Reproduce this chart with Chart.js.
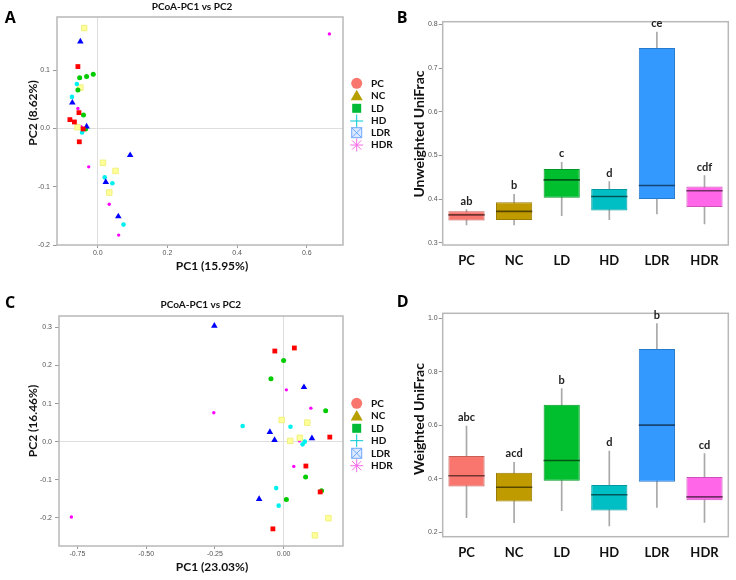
<!DOCTYPE html>
<html>
<head>
<meta charset="utf-8">
<script src="https://cdn.jsdelivr.net/npm/chart.js@4.4.1/dist/chart.umd.min.js"></script>
<style>
html,body{margin:0;padding:0;background:#fff;}
#wrap{position:relative;width:736px;height:580px;overflow:hidden;}
#wrap canvas{position:absolute;}
</style>
</head>
<body>
<div id="wrap">
	<canvas id="cA" width="400" height="290" style="left:0;top:0"></canvas>
	<canvas id="cC" width="400" height="290" style="left:0;top:290px"></canvas>
	<canvas id="cB" width="366" height="290" style="left:370px;top:0"></canvas>
	<canvas id="cD" width="366" height="290" style="left:370px;top:290px"></canvas>
</div>
<script>
// ---- dados ----
const groups = ['PC','NC','LD','HD','LDR','HDR'];

// PCoA unweighted (A) - um array por cor de ponto, pares [PC1, PC2]
const aRed     = [[-0.057,0.106],[-0.054,0.027],[-0.080,0.015],[-0.067,0.011],[-0.042,-0.001],[-0.053,-0.023]];
const aBlue    = [[-0.050,0.149],[-0.073,0.044],[-0.032,0.003],[0.093,-0.046],[0.023,-0.092],[0.059,-0.151]];
const aGreen   = [[-0.052,0.087],[-0.032,0.089],[-0.013,0.093],[-0.057,0.066],[-0.041,0.023],[-0.035,-0.001]];
const aCyan    = [[-0.060,0.076],[-0.074,0.054],[-0.045,-0.007],[0.020,-0.084],[0.042,-0.094],[0.074,-0.165]];
const aYellow  = [[-0.039,0.172],[-0.050,0.070],[-0.058,0.002],[0.015,-0.059],[0.051,-0.073],[0.033,-0.110]];
const aMagenta = [[-0.057,0.034],[-0.048,0.003],[0.665,0.162],[-0.026,-0.066],[0.033,-0.130],[0.060,-0.183]];

// PCoA weighted (C)
const cRed     = [[-0.032,0.238],[0.039,0.246],[0.168,0.012],[0.081,-0.064],[0.133,-0.132],[-0.039,-0.229]];
const cBlue    = [[-0.252,0.304],[0.074,0.143],[-0.050,0.025],[-0.033,0.004],[0.103,0.009],[-0.089,-0.151]];
const cGreen   = [[0.000,0.213],[-0.046,0.165],[0.153,0.081],[0.080,-0.093],[0.138,-0.129],[0.010,-0.152]];
const cCyan    = [[-0.149,0.041],[0.025,0.039],[0.077,0.000],[0.069,-0.007],[-0.027,-0.122],[-0.018,-0.168]];
const cYellow  = [[-0.007,0.057],[0.086,0.050],[0.024,0.002],[0.059,0.010],[0.163,-0.201],[0.114,-0.246]];
const cMagenta = [[0.010,0.136],[0.099,0.088],[-0.254,0.076],[0.058,0.002],[0.037,-0.065],[-0.772,-0.198]];

// boxplots Unweighted UniFrac (B)
const unwMin = [0.341,0.341,0.362,0.353,0.366,0.343];
const unwQ1  = [0.351,0.352,0.403,0.374,0.400,0.382];
const unwMed = [0.364,0.372,0.444,0.406,0.431,0.419];
const unwQ3  = [0.372,0.393,0.469,0.423,0.746,0.429];
const unwMax = [0.376,0.411,0.484,0.440,0.782,0.454];
const unwLetters = ['ab','b','c','d','ce','cdf'];

// boxplots Weighted UniFrac (D)
const wMin = [0.255,0.236,0.281,0.224,0.293,0.237];
const wQ1  = [0.372,0.316,0.393,0.282,0.389,0.320];
const wMed = [0.412,0.369,0.469,0.341,0.601,0.333];
const wQ3  = [0.486,0.423,0.677,0.377,0.886,0.407];
const wMax = [0.597,0.462,0.738,0.504,0.981,0.495];
const wLetters = ['abc','acd','b','d','b','cd'];

// ---- estilos ----
const LATO = "Lato, 'Open Sans', sans-serif";
const TICK_FONT = {family:"'Liberation Sans', Arial, sans-serif", size:7};
const boxFill = ['#F8766D','#C09B00','#00BF2E','#00BFC4','#3399FF','#FF66E8'];
const pointLooks = [
	{c:'#FF0000', s:'rect', r:3.4},
	{c:'#0000FF', s:'triangle', r:3.8},
	{c:'#00CC00', s:'circle', r:2.5},
	{c:'#00F0F0', s:'circle', r:2.3},
	{c:'#FFFF99', s:'rect', r:3.9, b:'#F0F080'},
	{c:'#FF00FF', s:'circle', r:1.7}
];
Chart.defaults.font.family = LATO;

function shade(hex, f){
	const n = parseInt(hex.slice(1),16);
	const r = Math.round(((n>>16)&255)*f), g = Math.round(((n>>8)&255)*f), b = Math.round((n&255)*f);
	return `rgb(${r},${g},${b})`;
}

// textos soltos (títulos, letras dos painéis)
function textPlugin(items){
	return { id:'texts', afterDraw(chart){
		const ctx = chart.ctx;
		for (const t of items){
			ctx.save();
			ctx.font = t.font; ctx.fillStyle = t.color || '#111';
			ctx.textAlign = t.align || 'center'; ctx.textBaseline = t.base || 'middle';
			ctx.translate(t.x, t.y); if (t.rot) ctx.rotate(t.rot);
			ctx.fillText(t.text, 0, 0);
			ctx.restore();
		}
	}};
}

const framePlugin = { id:'frame', beforeDatasetsDraw(chart){
	const {ctx, chartArea:a} = chart;
	ctx.save(); ctx.strokeStyle = '#b8b8b8'; ctx.lineWidth = 1.5;
	ctx.strokeRect(a.left, a.top, a.right-a.left, a.bottom-a.top);
	ctx.restore();
}};

function drawMarker(ctx, i, x, y){
	ctx.save();
	ctx.lineWidth = 1;
	if (i===0){ ctx.fillStyle='#F8766D'; ctx.beginPath(); ctx.arc(x,y,5.5,0,Math.PI*2); ctx.fill(); }
	else if (i===1){ ctx.fillStyle='#B79F00'; ctx.beginPath(); ctx.moveTo(x,y-6); ctx.lineTo(x-6,y+4.5); ctx.lineTo(x+6,y+4.5); ctx.closePath(); ctx.fill(); }
	else if (i===2){ ctx.fillStyle='#00BA38'; ctx.fillRect(x-4.5,y-4.5,9,9); }
	else if (i===3){ ctx.strokeStyle='#00C8D0'; ctx.beginPath(); ctx.moveTo(x-6.5,y); ctx.lineTo(x+6.5,y); ctx.moveTo(x,y-6.5); ctx.lineTo(x,y+6.5); ctx.stroke(); }
	else if (i===4){
		ctx.fillStyle='rgba(97,156,255,0.22)'; ctx.strokeStyle='#6FA8FF';
		ctx.fillRect(x-5,y-5,10,10); ctx.strokeRect(x-5,y-5,10,10);
		ctx.beginPath(); ctx.moveTo(x-5,y-5); ctx.lineTo(x+5,y+5); ctx.moveTo(x+5,y-5); ctx.lineTo(x-5,y+5); ctx.stroke();
	}
	else { ctx.strokeStyle='#F56AE6'; ctx.beginPath();
		for (let k=0;k<4;k++){ const a=k*Math.PI/4; ctx.moveTo(x-6.5*Math.cos(a),y-6.5*Math.sin(a)); ctx.lineTo(x+6.5*Math.cos(a),y+6.5*Math.sin(a)); }
		ctx.stroke(); }
	ctx.restore();
}

function legendPlugin(ys){
	return { id:'pcoaLegend', afterDraw(chart){
		const ctx = chart.ctx;
		groups.forEach((g,i)=>{
			drawMarker(ctx, i, 356.7, ys[i]);
			ctx.save(); ctx.font = 'bold 10px '+LATO; ctx.fillStyle='#111';
			ctx.textAlign='left'; ctx.textBaseline='middle'; ctx.fillText(g, 371, ys[i]); ctx.restore();
		});
	}};
}

function isZero(ctx){ return ctx.tick && Math.abs(ctx.tick.value) < 1e-9; }

function scatterChart(id, sets, xr, yr, xDec, box, texts, legendYs){
	const datasets = sets.map((pts,i)=>({
		data: pts.map(p=>({x:p[0], y:p[1]})),
		pointStyle: pointLooks[i].s, pointRadius: pointLooks[i].r,
		backgroundColor: pointLooks[i].c, borderColor: pointLooks[i].b || pointLooks[i].c,
		borderWidth: pointLooks[i].b ? 1 : 0
	}));
	return new Chart(document.getElementById(id), {
		type:'scatter', data:{datasets},
		options:{
			responsive:false, animation:false,
			layout:{ padding:{ top:box.top, right:box.right, left:0, bottom:0 } },
			plugins:{ legend:{display:false}, tooltip:{enabled:false} },
			scales:{
				x:{ min:xr[0], max:xr[1],
					afterFit(s){ s.height = box.xh; },
					border:{display:false},
					grid:{ color:c=> isZero(c) ? '#dedede' : 'transparent', tickColor:'#999', tickLength:3, lineWidth:1 },
					ticks:{ stepSize:xr[2], includeBounds:false, padding:1, color:'#555', font:TICK_FONT, maxRotation:0, callback:v=>Number(v).toFixed(xDec) } },
				y:{ min:yr[0], max:yr[1],
					afterFit(s){ s.width = box.yw; },
					border:{display:false},
					grid:{ color:c=> isZero(c) ? '#dedede' : 'transparent', tickColor:'#999', tickLength:4, lineWidth:1 },
					ticks:{ stepSize:yr[2], includeBounds:false, padding:3, color:'#555', font:TICK_FONT, callback:v=>Number(v).toFixed(1) } }
			}
		},
		plugins:[ framePlugin, legendPlugin(legendYs), textPlugin(texts) ]
	});
}

function boxChart(id, mins, q1, med, q3, maxs, letters, yr, box, texts){
	const boxPlugin = { id:'boxMedian', afterDatasetsDraw(chart){
		const ctx = chart.ctx, ys = chart.scales.y;
		chart.getDatasetMeta(0).data.forEach((bar,i)=>{
			const {x, width} = bar.getProps(['x','width'], true);
			const py = ys.getPixelForValue(med[i]);
			ctx.save();
			ctx.strokeStyle = shade(boxFill[i], 0.45); ctx.lineWidth = 1.6;
			ctx.beginPath(); ctx.moveTo(x-width/2, py); ctx.lineTo(x+width/2, py); ctx.stroke();
			ctx.font = 'bold 11px '+LATO; ctx.fillStyle = '#222';
			ctx.textAlign='center'; ctx.textBaseline='bottom';
			ctx.fillText(letters[i], x, ys.getPixelForValue(maxs[i]) - 3);
			ctx.restore();
		});
	}};
	return new Chart(document.getElementById(id), {
		type:'bar',
		data:{ labels:groups, datasets:[
			{ data: groups.map((g,i)=>[q1[i], q3[i]]), backgroundColor: boxFill, borderColor: boxFill.map(c=>shade(c,0.8)),
				borderWidth:1, borderSkipped:false, barPercentage:0.76, categoryPercentage:1, grouped:false, order:1 },
			{ data: groups.map((g,i)=>[mins[i], maxs[i]]), backgroundColor:'#a8a8a8', barThickness:1, grouped:false, order:2 }
		]},
		options:{
			responsive:false, animation:false,
			layout:{ padding:{ top:box.top, right:box.right, left:0, bottom:0 } },
			plugins:{ legend:{display:false}, tooltip:{enabled:false} },
			scales:{
				x:{ afterFit(s){ s.height = box.xh; }, border:{display:false}, grid:{display:false, drawTicks:false},
					ticks:{ padding:8, color:'#111', font:{family:LATO, size:13, weight:'bold'} } },
				y:{ min:yr[0], max:yr[1], afterFit(s){ s.width = box.yw; }, border:{display:false},
					grid:{ drawOnChartArea:false, tickColor:'#999', tickLength:4 },
					ticks:{ stepSize:yr[2], includeBounds:false, padding:1, color:'#555', font:TICK_FONT, callback:v=>Number(v).toFixed(1) } }
			}
		},
		plugins:[ framePlugin, boxPlugin, textPlugin(texts) ]
	});
}

const TAG = "bold 16px 'Open Sans', sans-serif";
const TITLE = 'bold 10px '+LATO;
const AXT = 'bold 12px '+LATO;
const UP = -Math.PI/2;

scatterChart('cA', [aRed,aBlue,aGreen,aCyan,aYellow,aMagenta], [-0.117,0.704,0.2], [-0.2,0.191,0.1], 1,
	{top:17, right:57, yw:57, xh:45},
	[ {text:'A', x:4.7, y:22.7, font:TAG, align:'left', base:'alphabetic', color:'#000'},
		{text:'PCoA-PC1 vs PC2', x:192, y:7, font:TITLE},
		{text:'PC1 (15.95%)', x:212, y:266, font:AXT},
		{text:'PC2 (8.62%)', x:33, y:113, font:AXT, rot:UP} ],
	[83.3,95.7,108.3,121,132.7,145]);

scatterChart('cC', [cRed,cBlue,cGreen,cCyan,cYellow,cMagenta], [-0.817,0.216,0.25], [-0.274,0.33,0.1], 2,
	{top:26, right:57, yw:59, xh:34},
	[ {text:'C', x:5, y:18.3, font:TAG, align:'left', base:'alphabetic', color:'#000'},
		{text:'PCoA-PC1 vs PC2', x:200.8, y:15, font:TITLE},
		{text:'PC1 (23.03%)', x:212, y:276.7, font:AXT},
		{text:'PC2 (16.46%)', x:33, y:131, font:AXT, rot:UP} ],
	[113.3,126,138.3,150.7,163.3,175.7]);

boxChart('cB', unwMin, unwQ1, unwMed, unwQ3, unwMax, unwLetters, [0.295,0.806,0.1],
	{top:21.7, right:7.7, yw:72.7, xh:45},
	[ {text:'B', x:26.7, y:23.3, font:TAG, align:'left', base:'alphabetic', color:'#000'},
		{text:'Unweighted UniFrac', x:49, y:134, font:'bold 14px '+LATO, rot:UP} ]);

boxChart('cD', wMin, wQ1, wMed, wQ3, wMax, wLetters, [0.184,1.019,0.2],
	{top:23.3, right:7.7, yw:72.7, xh:43.3},
	[ {text:'D', x:26.7, y:16.7, font:TAG, align:'left', base:'alphabetic', color:'#000'},
		{text:'Weighted UniFrac', x:49, y:129, font:'bold 14px '+LATO, rot:UP} ]);
</script>
</body>
</html>
